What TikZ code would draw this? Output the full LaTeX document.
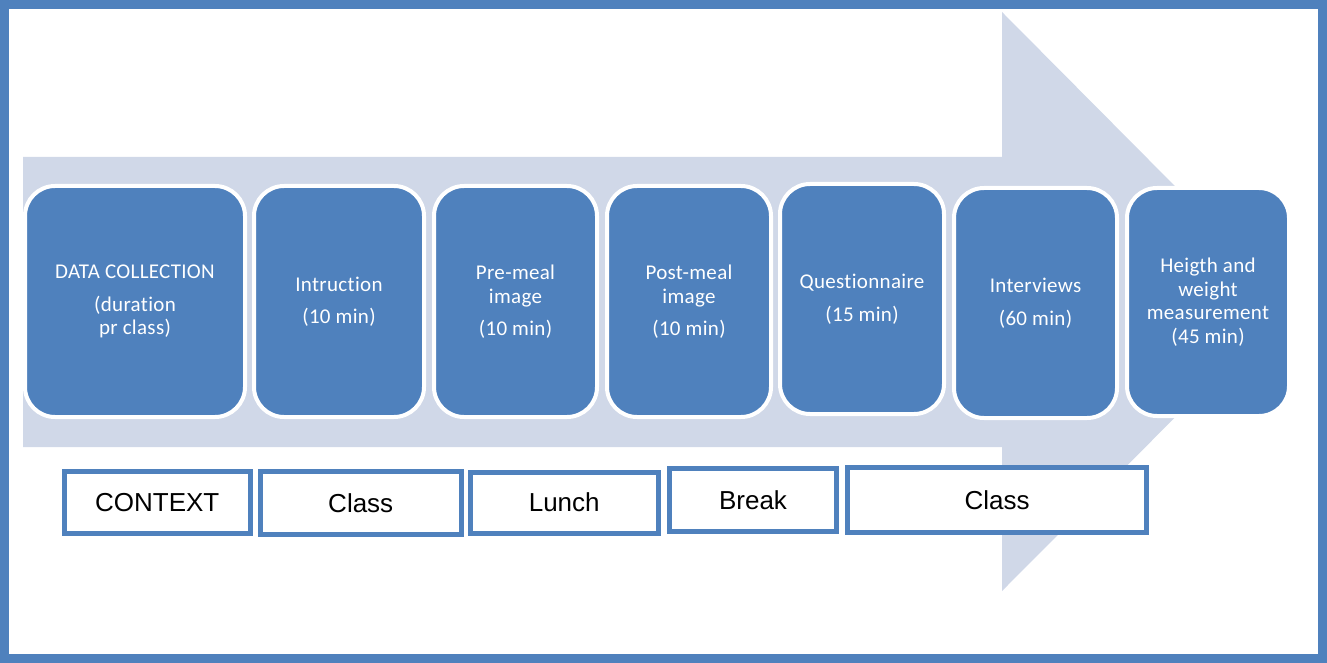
\documentclass[tikz,border=0pt]{standalone}
\usepackage{fontspec}
\setmainfont{Carlito}[Ligatures={NoCommon,NoContextual}, LetterSpace=1.5]
\newfontfamily\arialfont{Liberation Sans}
\definecolor{officeblue}{RGB}{79,129,189}
\definecolor{arrowgray}{RGB}{208,216,232}
\tikzset{
    phase/.style={fill=officeblue, draw=white, line width=4pt, rounded corners=30pt,
        text=white, align=center, inner sep=0pt,
        font=\fontsize{21}{23.5}\selectfont},
    context/.style={fill=white, draw=officeblue, line width=5pt, inner sep=0pt,
        font=\arialfont\fontsize{26}{30}\selectfont},
}
\begin{document}
\begin{tikzpicture}[x=1pt, y=-1pt]
    \useasboundingbox (0,0) rectangle (1327,663);
    \draw[officeblue, line width=9pt] (4.5,4.5) rectangle (1322.5,658.5);
    \fill[arrowgray] (23,157) -- (1002,157) -- (1002,12) -- (1290,302)
        -- (1002,591) -- (1002,447) -- (23,447) -- cycle;
    \node[phase, minimum width=220pt, minimum height=231pt] (collect) at (135,301.5)
        {DATA COLLECTION\\[9pt](duration\\pr class)};
    \node[phase, minimum width=170pt, minimum height=231pt] (instr) at (339,301.5)
        {Intruction\\[8.5pt](10 min)};
    \node[phase, minimum width=163pt, minimum height=231pt] (premeal) at (515.5,301.5)
        {Pre-meal\\image\\[8.5pt](10 min)};
    \node[phase, minimum width=164pt, minimum height=231pt] (postmeal) at (689,301.5)
        {Post-meal\\image\\[8.5pt](10 min)};
    \node[phase, minimum width=164pt, minimum height=230pt] (quest) at (862,299)
        {Questionnaire\\[9pt](15 min)};
    \node[phase, minimum width=163pt, minimum height=230pt] (interv) at (1035.5,303)
        {Interviews\\[9pt](60 min)};
    \node[phase, minimum width=162pt, minimum height=228pt] (measure) at (1208,302)
        {Heigth and\\weight\\measurement\\(45 min)};
    \node[context, minimum width=185.5pt, minimum height=62.5pt] (ctx) at (157.25,502.25) {CONTEXT};
    \node[context, minimum width=200.5pt, minimum height=63pt] (classA) at (360.75,503) {Class};
    \node[context, minimum width=187.5pt, minimum height=61pt] (lunch) at (564.25,502.5) {Lunch};
    \node[context, minimum width=167pt, minimum height=62.5pt] (break) at (753,499.75) {Break};
    \node[context, minimum width=299pt, minimum height=64.5pt] (classB) at (997,499.75) {Class};
\end{tikzpicture}
\end{document}
